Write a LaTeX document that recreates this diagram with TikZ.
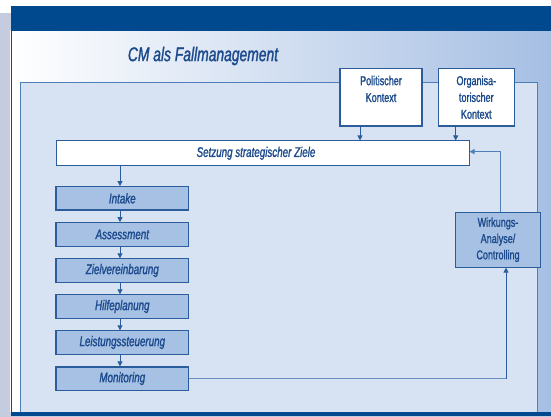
\documentclass[tikz,border=0pt]{standalone}
\usepackage{fontspec}
\setmainfont{Liberation Sans}[FakeStretch=0.70, FakeBold=1.3]
\usetikzlibrary{arrows.meta}
\definecolor{hdrblue}{RGB}{0,73,143}
\definecolor{stripgray}{RGB}{197,204,224}
\definecolor{innerfill}{RGB}{215,227,243}
\definecolor{outerblue}{RGB}{166,191,227}
\definecolor{boxfill}{RGB}{166,193,228}
\definecolor{boxline}{RGB}{43,93,156}
\definecolor{txtblue}{RGB}{28,74,140}
\definecolor{frameline}{RGB}{78,127,185}
\definecolor{monline}{RGB}{105,145,196}
\tikzset{
  stepbox/.style={draw=boxline, line width=1.1pt, fill=boxfill, minimum width=132.7pt, minimum height=23.3pt, inner sep=0pt, font=\fontsize{14}{15}\selectfont\itshape, text=txtblue},
  ctxbox/.style={draw=boxline, line width=1.1pt, fill=white, inner sep=0pt, align=center, font=\fontsize{12.9}{16.8}\selectfont, text=txtblue},
  arr/.style={draw=boxline, line width=1pt, -{Triangle[length=5pt,width=5pt]}},
}
\begin{document}
\begin{tikzpicture}[x=1pt,y=-1pt]
\useasboundingbox (0,0) rectangle (551,417);
% background strips
\fill[stripgray] (0,13) rectangle (10.5,417);
\fill[stripgray] (0,415.5) rectangle (551,417);
\shade[left color=white, right color=outerblue] (10.5,31) rectangle (551,412);
\fill[hdrblue] (10.5,6.3) rectangle (551,31);
% inner frame
\fill[innerfill] (20.4,83) rectangle (537.7,412);
\draw[frameline, line width=1pt] (20.4,412) -- (20.4,83) -- (537.7,83) -- (537.7,412);
% left border and bottom bar
\fill[hdrblue] (10.5,31) rectangle (12.3,415.5);
\fill[hdrblue] (10.5,411.5) rectangle (551,415.5);
% title
\node[font=\fontsize{19.8}{21}\selectfont\itshape, text=txtblue] (title) at (203,56) {CM als Fallmanagement};
% context boxes
\node[ctxbox, minimum width=82pt, minimum height=57.5pt] (polit) at (381,97.3) {Politischer\\Kontext\\\mbox{}};
\node[ctxbox, minimum width=75.5pt, minimum height=57.5pt] (org) at (476.3,97.3) {Organisa-\\torischer\\Kontext};
% strategic goals
\node[draw=boxline, line width=1pt, fill=white, minimum width=413pt, minimum height=24.7pt, inner sep=0pt, font=\fontsize{14}{15}\selectfont\itshape, text=txtblue] (settext) at (262.5,153.3) {Setzung strategischer Ziele\hspace*{13pt}};
% process steps
\node[stepbox] (intake) at (122.3,198.3) {Intake};
\node[stepbox] (assess) at (122.3,234.4) {Assessment};
\node[stepbox] (ziel) at (122.3,270.5) {Zielvereinbarung};
\node[stepbox] (hilfe) at (122.3,306.5) {Hilfeplanung};
\node[stepbox] (leist) at (122.3,342.5) {Leistungssteuerung};
\node[stepbox] (monit) at (122.3,378.6) {Monitoring};
% controlling
\node[draw=boxline, line width=1.1pt, fill=boxfill, minimum width=84.6pt, minimum height=54.7pt, inner sep=0pt, align=center, font=\fontsize{12.9}{16.3}\selectfont, text=txtblue] (wirk) at (498,239.7) {Wirkungs-\\Analyse/\\Controlling};
% connectors
\draw[arr] ([xshift=-21pt]polit.south) -- ([xshift=-21pt]polit.south |- settext.north);
\draw[arr] ([xshift=-20.6pt]org.south) -- ([xshift=-20.6pt]org.south |- settext.north);
\draw[arr] ([xshift=-2.3pt]intake.north |- settext.south) -- ([xshift=-2.3pt]intake.north);
\draw[arr] ([xshift=-2.3pt]intake.south) -- ([xshift=-2.3pt]assess.north);
\draw[arr] ([xshift=-2.3pt]assess.south) -- ([xshift=-2.3pt]ziel.north);
\draw[arr] ([xshift=-2.3pt]ziel.south) -- ([xshift=-2.3pt]hilfe.north);
\draw[arr] ([xshift=-2.3pt]hilfe.south) -- ([xshift=-2.3pt]leist.north);
\draw[arr] ([xshift=-2.3pt]leist.south) -- ([xshift=-2.3pt]monit.north);
\draw[arr, draw=frameline] ([xshift=2.7pt]wirk.north) |- ([yshift=1.7pt]settext.east);
\draw[draw=monline, line width=1.5pt] (monit.east) -- ([xshift=8pt]wirk.south |- monit.east);
\draw[arr] ([xshift=8pt]wirk.south |- monit.east) -- ([xshift=8pt]wirk.south);
\end{tikzpicture}
\end{document}
